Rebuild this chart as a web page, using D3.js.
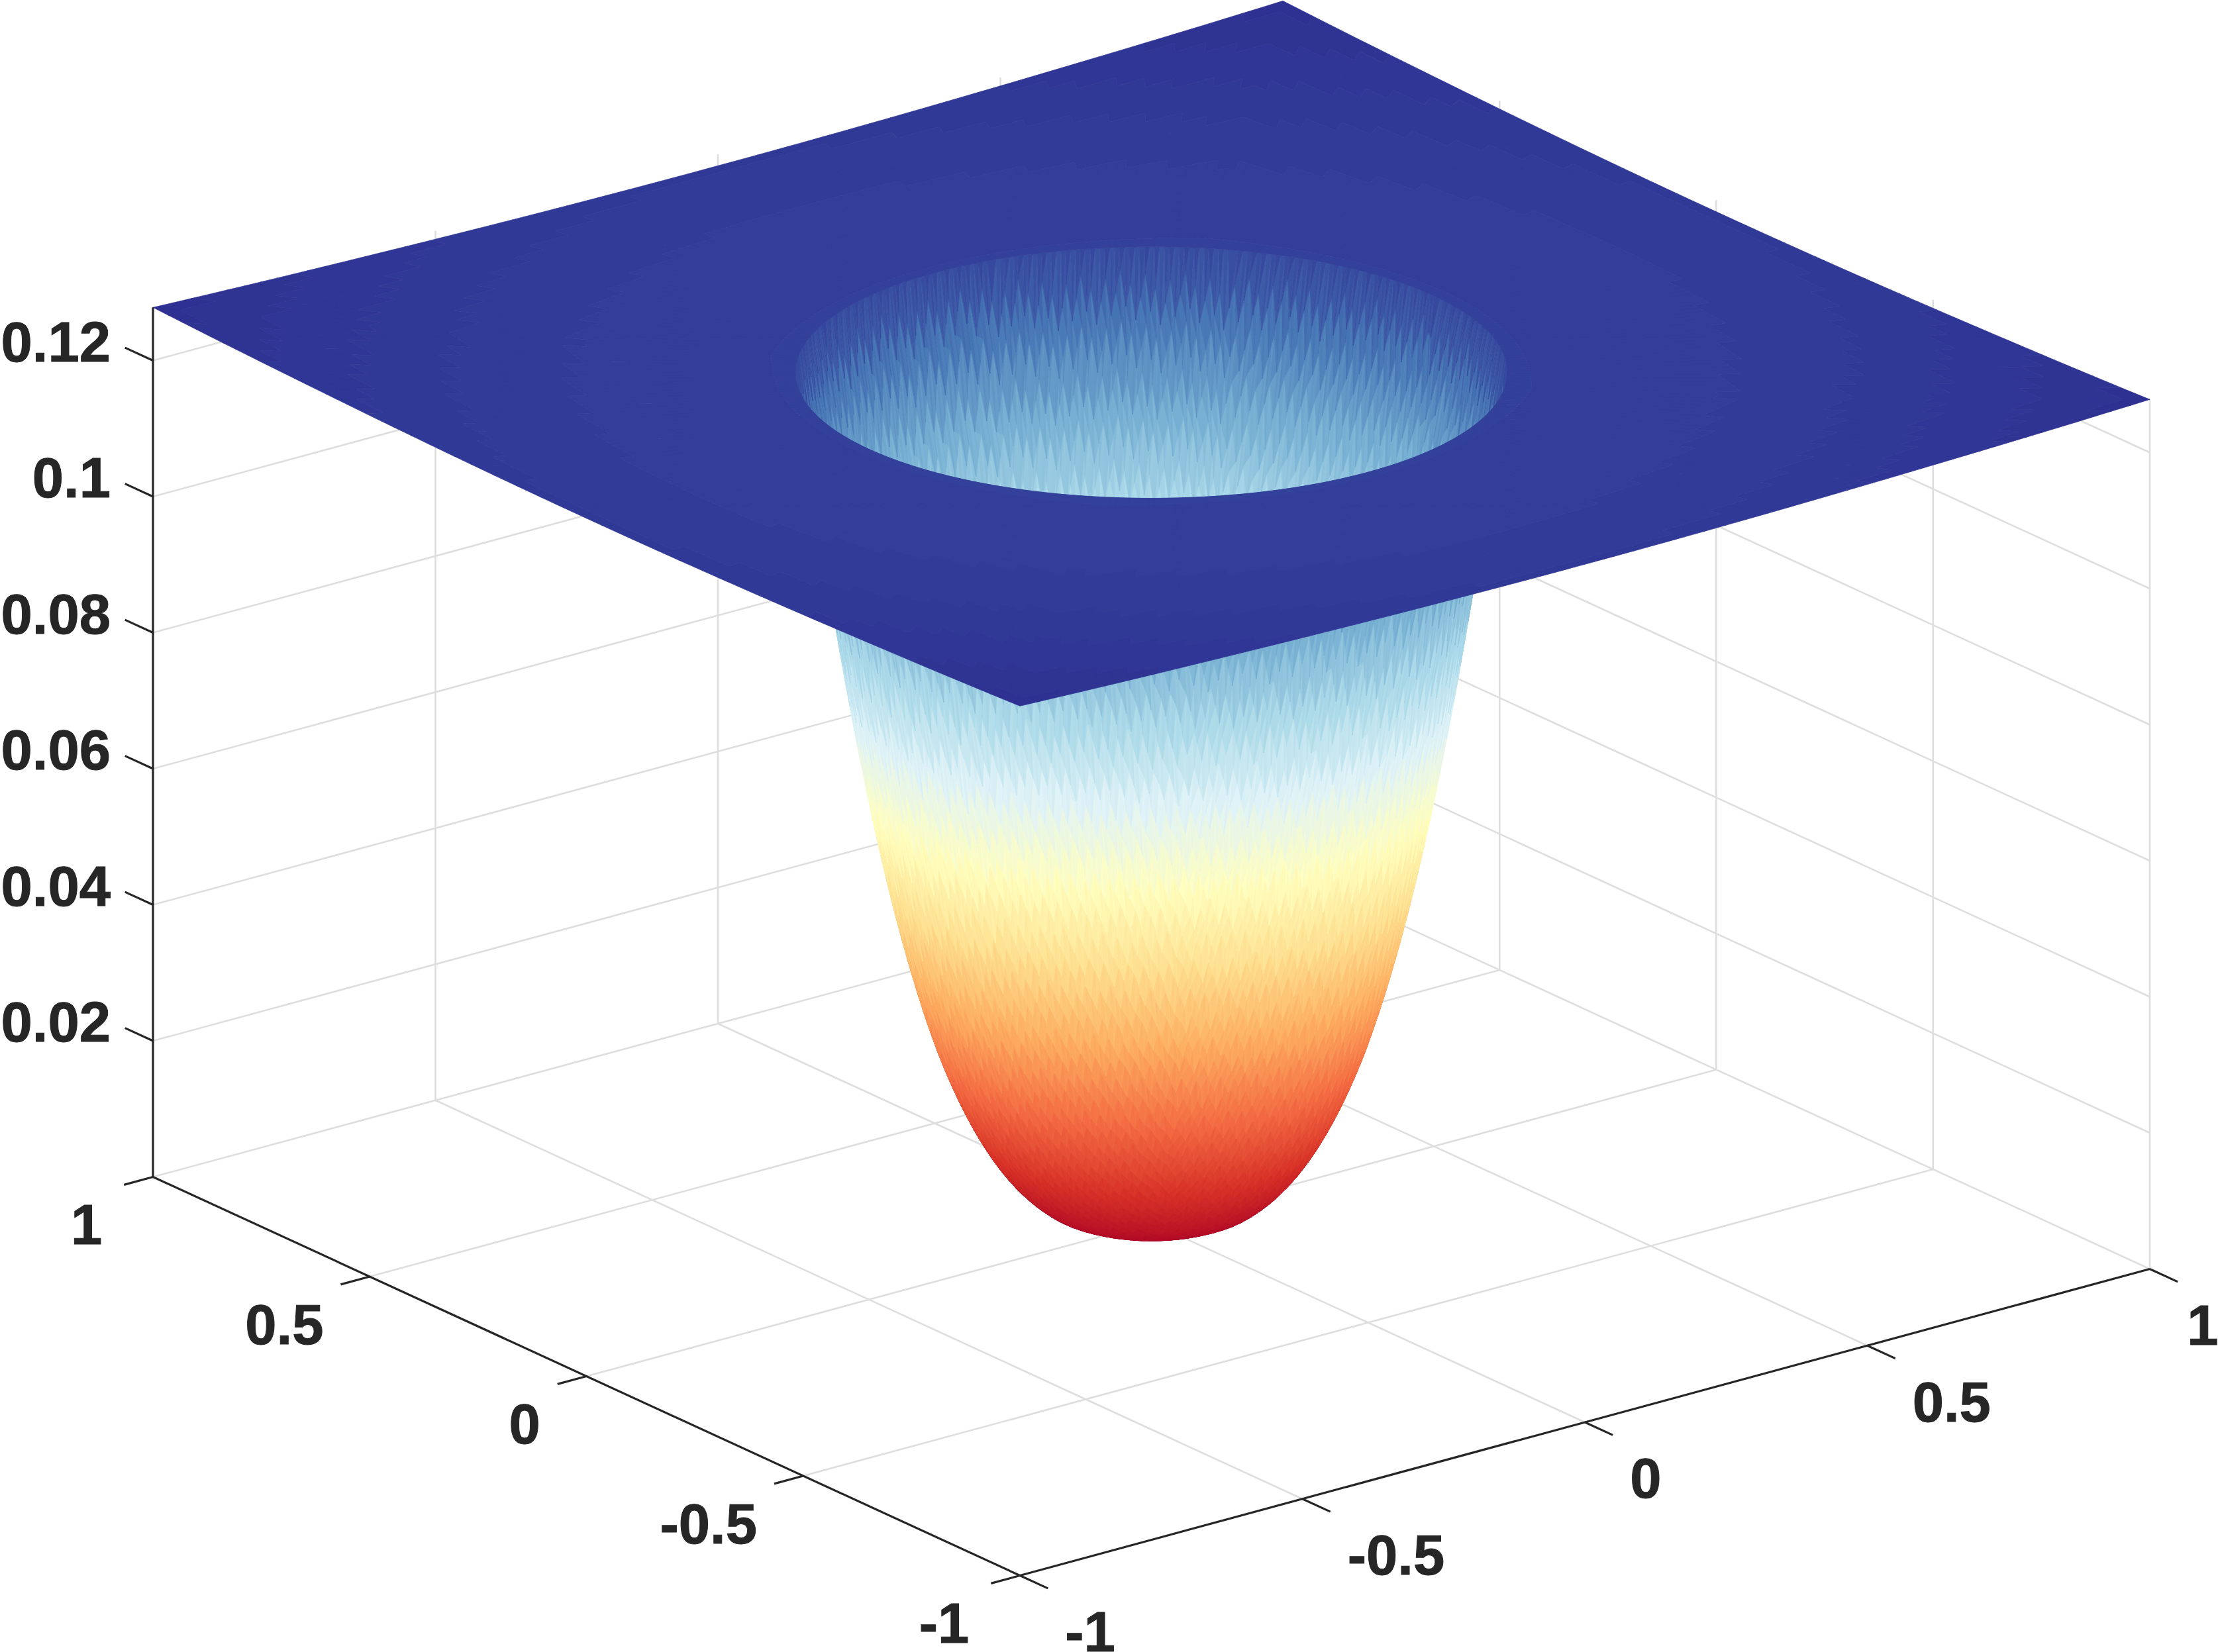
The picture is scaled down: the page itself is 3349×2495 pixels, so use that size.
<!DOCTYPE html>
<html>
<head>
<meta charset="utf-8">
<title>Surface</title>
<script src="https://cdn.jsdelivr.net/npm/d3@7"></script>
<style>
html,body{margin:0;padding:0;background:#fff;overflow:hidden}
svg{display:block}
text{font-family:"Liberation Sans",Arial,sans-serif;font-weight:700;font-size:85px;fill:#262626;stroke:#262626;stroke-width:1}
</style>
</head>
<body>
<div id="chart"></div>
<script>
// ---- values ----
const xTicks = [-1, -0.5, 0, 0.5, 1];
const xTickLabels = ["-1", "-0.5", "0", "0.5", "1"];
const yTicks = [-1, -0.5, 0, 0.5, 1];
const yTickLabels = ["-1", "-0.5", "0", "0.5", "1"];
const zTicks = [0.02, 0.04, 0.06, 0.08, 0.1, 0.12];
const zTickLabels = ["0.02", "0.04", "0.06", "0.08", "0.1", "0.12"];

// radial profile of the bowl: radius -> height
const bowlRadius = [0,.01,.02,.03,.04,.05,.06,.07,.08,.09,.10,.11,.12,.13,.14,.15,.16,.17,.18,.19,.20,.21,.22,.23,.24,.25,
  .26,.27,.28,.29,.30,.31,.32,.33,.34,.35,.36,.37,.38,.39,.40,.41,.42,.43,.44,.45,.46,.47,.48,.49,.50];
const bowlHeight = [0,.0000115,.000046,.000104,.000184,.000288,.000416,.000569,.000748,.000951,.00118,.001469,.001797,.002167,.002579,.003038,.003712,.00448,.005346,.006318,.0074,.008608,.009941,.011405,.013006,.01475,
  .016643,.018692,.020902,.023279,.02583,.028676,.031724,.034979,.038449,.04214,.04606,.050215,.054612,.059258,.06416,.069224,.074547,.080136,.085997,.092138,.098182,.104484,.111053,.117891,.125];

// radial profile of the outer plate
const plateRadius = [0.5, 0.6, 0.7, 0.8, 0.9, 1.0, 1.1, 1.2, 1.3, 1.4143];
const plateHeight = [0.125, 0.1252, 0.1253, 0.1255, 0.1258, 0.1261, 0.1265, 0.1269, 0.1273, 0.1278];

const zTop = 0.1278;
const colorStops = ["#a50026","#d73027","#f46d43","#fdae61","#fee090","#ffffbf","#e0f3f8","#abd9e9","#74add1","#4575b4","#2e3192"];

// ---- projection, built from D3 scales ----
const W = 3349, H = 2495;
const cx = 1738.5, cy = 1847;
const xToScreenX = d3.scaleLinear().domain([-1, 1]).range([-853, 853]);
const xToScreenY = d3.scaleLinear().domain([-1, 1]).range([231.5, -231.5]);
const yToScreenX = d3.scaleLinear().domain([-1, 1]).range([654.5, -654.5]);
const yToScreenY = d3.scaleLinear().domain([-1, 1]).range([301, -301]);
const zToScreenY = d3.scaleLinear().domain([0, 0.02]).range([0, -205.5]);
const proj = (x, y, z) => [cx + xToScreenX(x) + yToScreenX(y), cy + xToScreenY(x) + yToScreenY(y) + zToScreenY(z)];

const bowlZ = d3.scaleLinear().domain(bowlRadius).range(bowlHeight).clamp(true);
const plateZ = d3.scaleLinear().domain(plateRadius).range(plateHeight);

const levels = 256;
const colorScale = d3.scaleLinear()
  .domain(colorStops.map((c, i) => i / (colorStops.length - 1) * zTop))
  .range(colorStops).interpolate(d3.interpolateRgb).clamp(true);
const levelOf = z => Math.max(0, Math.min(levels - 1, Math.round(z / zTop * (levels - 1))));
const levelColor = l => colorScale(l / (levels - 1) * zTop);

const svg = d3.select("#chart").append("svg").attr("width", W).attr("height", H).attr("viewBox", [0, 0, W, H]);
const line = d3.line();
const GRID = "#dedede", AXIS = "#262626";

// ---- back grid ----
const gridG = svg.append("g").attr("fill", "none").attr("stroke", GRID).attr("stroke-width", 2.6);
function gridLine(a, b) { gridG.append("path").attr("d", line([proj(...a), proj(...b)])); }
xTicks.filter(v => v > -1).forEach(v => gridLine([v, -1, 0], [v, 1, 0]));
yTicks.filter(v => v > -1).forEach(v => gridLine([-1, v, 0], [1, v, 0]));
xTicks.filter(v => v > -1).forEach(v => gridLine([v, 1, 0], [v, 1, zTop]));
yTicks.filter(v => v > -1 && v < 1).forEach(v => gridLine([1, v, 0], [1, v, zTop]));
gridLine([1, -1, 0], [1, -1, zTop]);
zTicks.forEach(z => { gridLine([-1, 1, z], [1, 1, z]); gridLine([1, 1, z], [1, -1, z]); });

// ---- bowl mesh ----
// Rings have different vertex counts and the vertices sit off the ring by a fixed
// golden-ratio pattern, which gives the irregular faceted look of the original mesh.
const frac = v => v - Math.floor(v);
const meshOffset = (i, k) => frac(i * 0.6180339887 + k * 0.3819660113) - 0.5;
const ringCount = r => r === 0 ? 1 : Math.max(8, Math.round(900 * r));
const rings = bowlRadius.map((r, k) => {
  const n = ringCount(r), off = (k % 2) * 0.5 / n;
  const last = k === bowlRadius.length - 1;
  return d3.range(n + 1).map(i => {
    const t = i / n + off;
    const a = t * 2 * Math.PI;
    const ii = i === n ? 0 : i;
    const rv = (last || k === 0) ? r : Math.min(0.5, Math.max(0, r + 0.012 * Math.min(1, r / 0.1) * meshOffset(ii, k)));
    const z = bowlZ(rv);
    return { t, z, p: proj(rv * Math.cos(a), rv * Math.sin(a), z) };
  });
});
const innerPaths = new Map(), outerPaths = new Map();
function addTri(a, b, c) {
  const area = (b.p[0] - a.p[0]) * (c.p[1] - a.p[1]) - (b.p[1] - a.p[1]) * (c.p[0] - a.p[0]);
  const m = area < 0 ? innerPaths : outerPaths;
  const l = levelOf((a.z + b.z + c.z) / 3);
  if (!m.has(l)) m.set(l, d3.path());
  const path = m.get(l);
  path.moveTo(a.p[0], a.p[1]); path.lineTo(b.p[0], b.p[1]); path.lineTo(c.p[0], c.p[1]); path.closePath();
}
for (let k = 0; k < rings.length - 1; k++) {
  const I = rings[k], O = rings[k + 1];
  let i = 0, j = 0;
  const inStart = I[0].t, outStart = O[0].t;
  while (i < I.length - 1 || j < O.length - 1) {
    const nextI = i < I.length - 1 ? I[i + 1].t - inStart : Infinity;
    const nextO = j < O.length - 1 ? O[j + 1].t - outStart : Infinity;
    if (nextO <= nextI) { addTri(I[i], O[j], O[j + 1]); j++; }
    else { addTri(I[i], O[j], I[i + 1]); i++; }
  }
}
function drawLevels(map, cls) {
  const rows = Array.from(map, ([level, path]) => ({ level, d: path.toString() })).sort((a, b) => a.level - b.level);
  svg.append("g").attr("class", cls).selectAll("path").data(rows).join("path")
    .attr("d", d => d.d)
    .attr("fill", d => levelColor(d.level))
    .attr("stroke", d => levelColor(d.level))
    .attr("stroke-width", 0.7).attr("stroke-linejoin", "round");
}
drawLevels(innerPaths, "bowl-inside");
drawLevels(outerPaths, "bowl-outside");

// ---- outer plate: from the rim circle out to the square edge ----
const platePaths = new Map();
const sectors = 360, steps = 24;
const plateVertex = (s, t) => {
  const a = s / sectors * 2 * Math.PI, c = Math.cos(a), q = Math.sin(a);
  const R = 1 / Math.max(Math.abs(c), Math.abs(q));
  const r = 0.5 + (R - 0.5) * t;
  const z = plateZ(Math.min(r, 1.4143));
  return { z, p: proj(r * c, r * q, z) };
};
for (let s = 0; s < sectors; s++) for (let u = 0; u < steps; u++) {
  const A = plateVertex(s, u / steps), B = plateVertex(s, (u + 1) / steps),
        C = plateVertex(s + 1, (u + 1) / steps), D = plateVertex(s + 1, u / steps);
  const l = levelOf((A.z + B.z + C.z + D.z) / 4);
  if (!platePaths.has(l)) platePaths.set(l, d3.path());
  const path = platePaths.get(l);
  path.moveTo(A.p[0], A.p[1]); path.lineTo(B.p[0], B.p[1]); path.lineTo(C.p[0], C.p[1]); path.lineTo(D.p[0], D.p[1]); path.closePath();
}
drawLevels(platePaths, "plate");

// ---- axes ----
const axisG = svg.append("g").attr("fill", "none").attr("stroke", AXIS).attr("stroke-width", 3.2);
function axisLine(a, b) { axisG.append("path").attr("d", line([proj(...a), proj(...b)])); }
axisLine([-1, 1, 0], [-1, 1, zTop]);
axisLine([-1, 1, 0], [-1, -1, 0]);
axisLine([-1, -1, 0], [1, -1, 0]);
const tickX = 0.0513, tickY = 0.0645;
zTicks.forEach(z => axisLine([-1, 1, z], [-1, 1 + tickY, z]));
yTicks.forEach(v => axisLine([-1, v, 0], [-1 - tickX, v, 0]));
xTicks.forEach(v => axisLine([v, -1, 0], [v, -1 - tickY, 0]));

// ---- tick labels ----
const labelG = svg.append("g");
zTicks.forEach((z, i) => {
  const p = proj(-1, 1, z);
  labelG.append("text").attr("x", 167).attr("y", p[1] + 1).attr("text-anchor", "end").text(zTickLabels[i]);
});
yTicks.forEach((v, i) => {
  const p = proj(-1 - tickX, v, 0), s = yTickLabels[i];
  labelG.append("text").attr("x", p[0] - (s.endsWith("1") ? 33 : 26)).attr("y", p[1] + 90).attr("text-anchor", "end").text(s);
});
xTicks.forEach((v, i) => {
  const p = proj(v, -1 - tickY, 0);
  labelG.append("text").attr("x", p[0] + 26 - (v === 1 ? 12 : 0)).attr("y", p[1] + 95).attr("text-anchor", "start").text(xTickLabels[i]);
});
</script>
</body>
</html>
